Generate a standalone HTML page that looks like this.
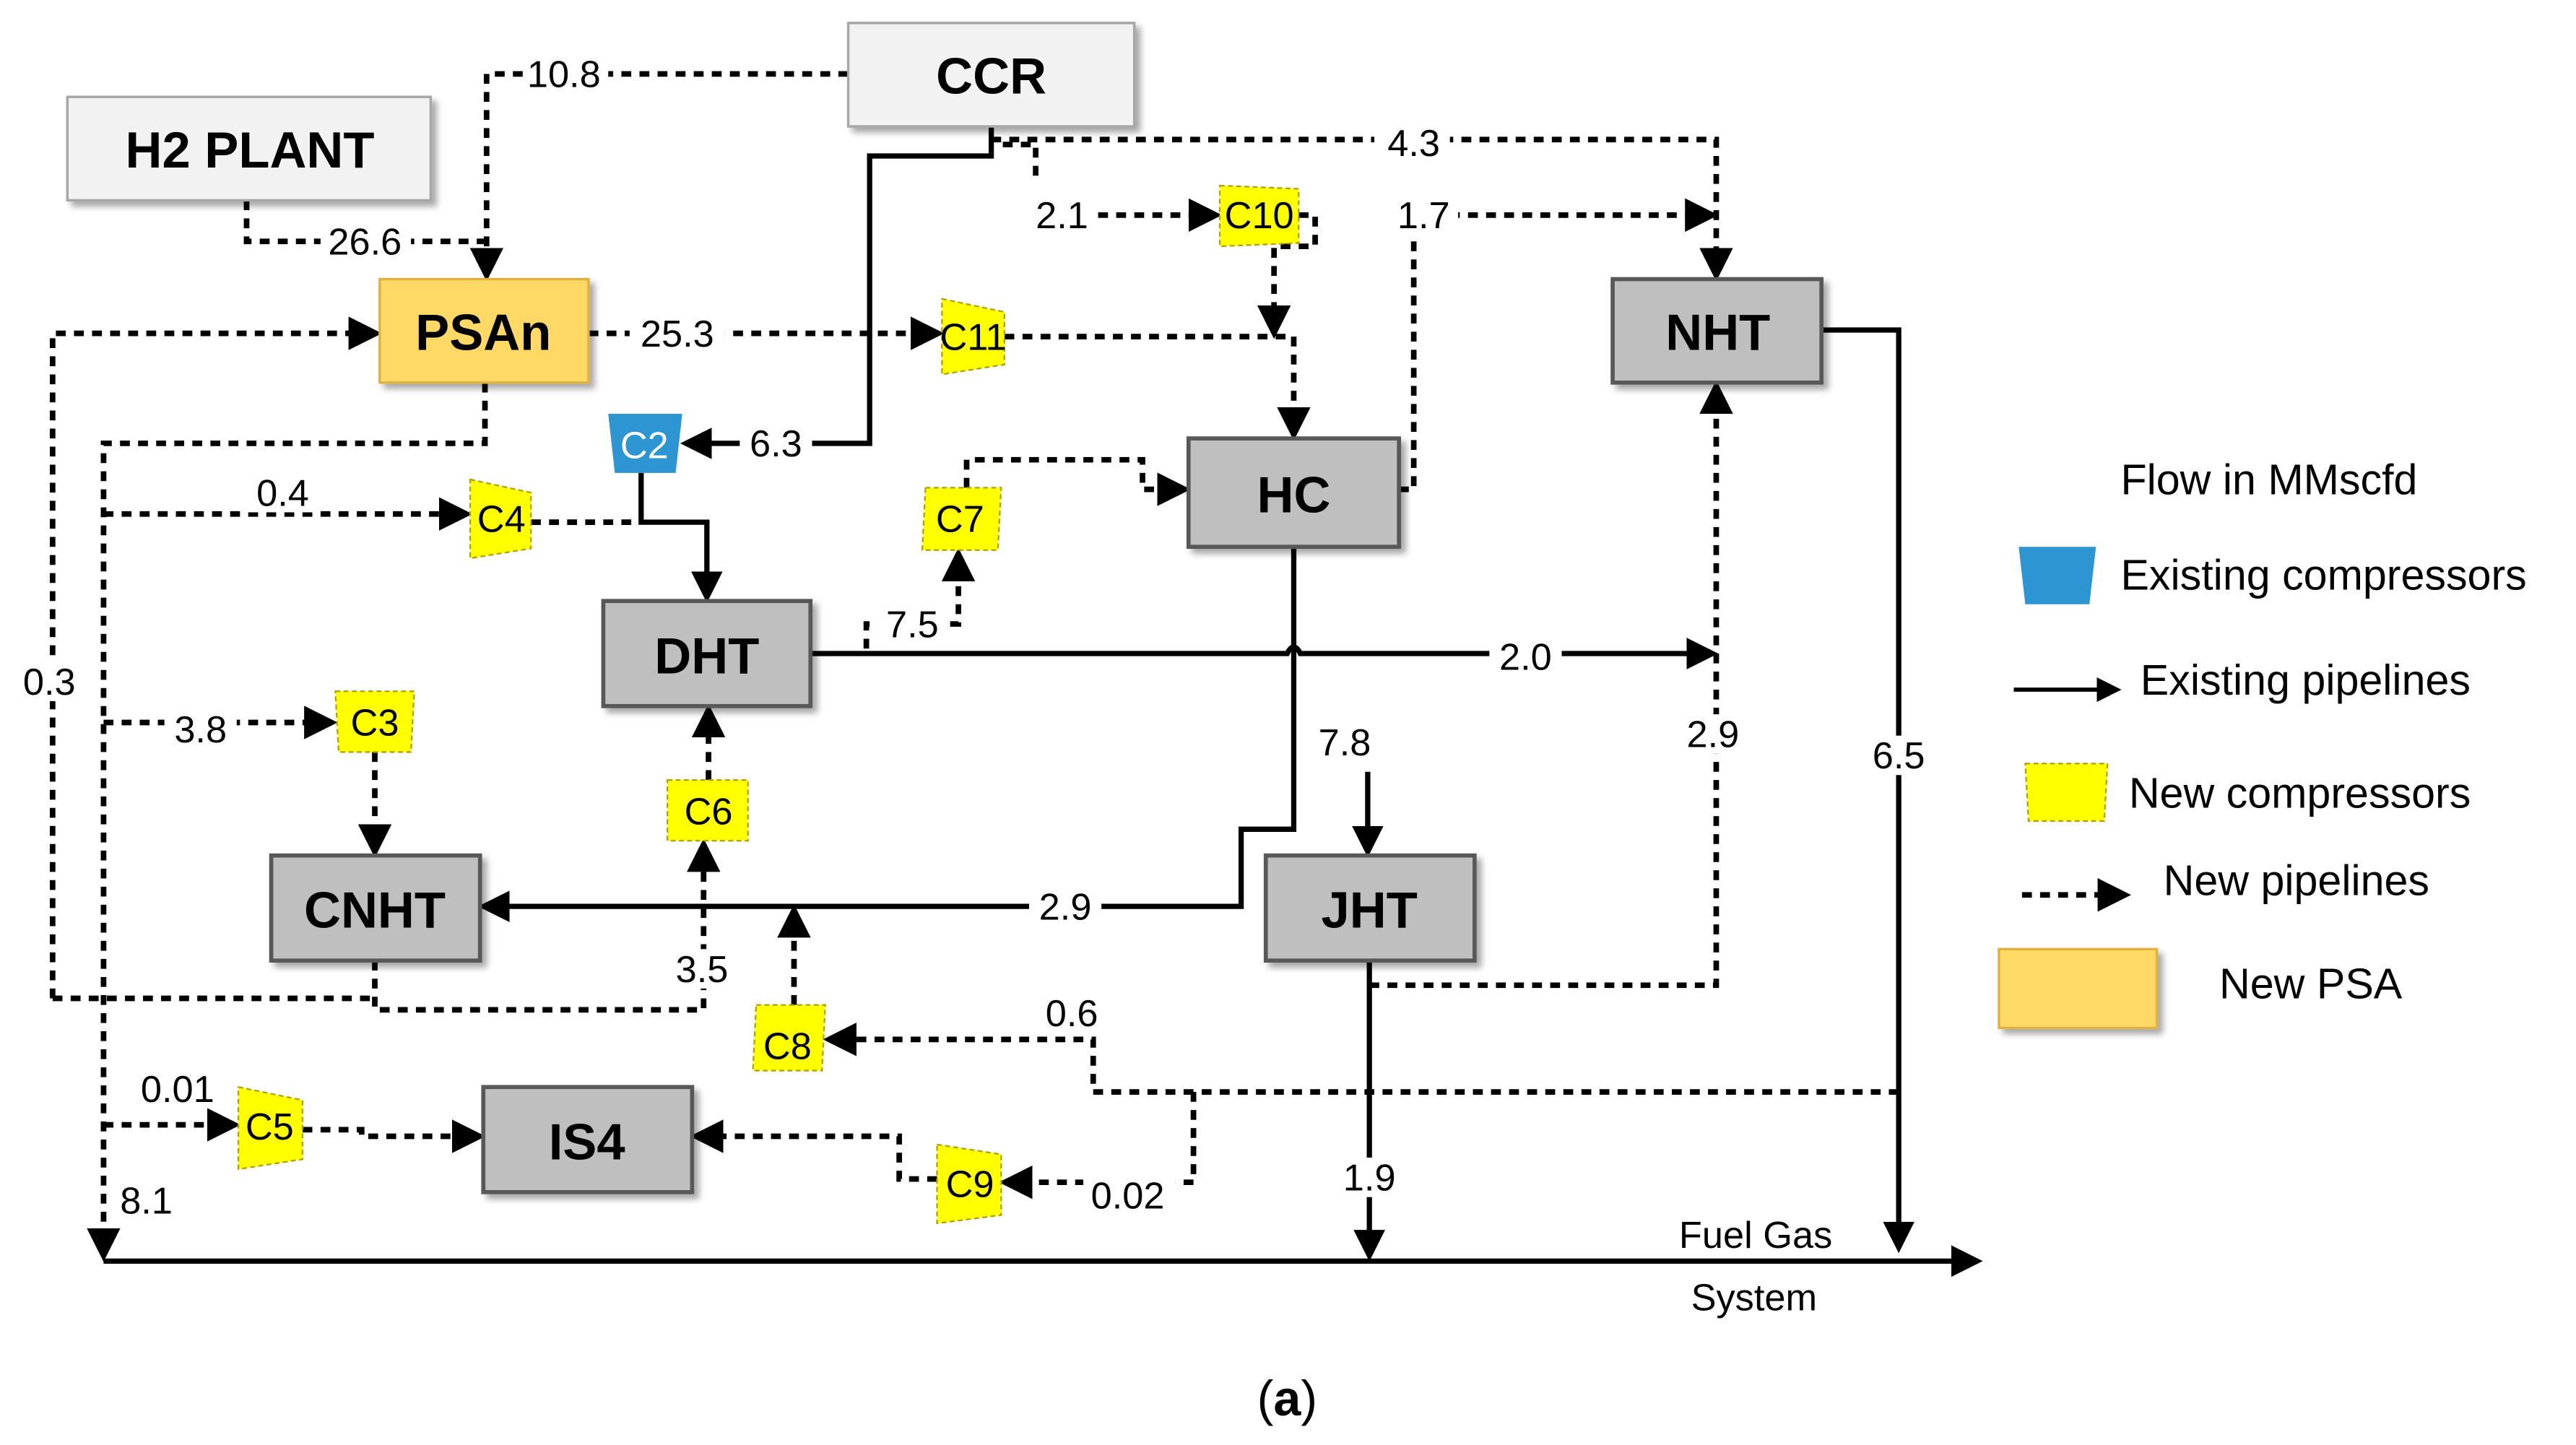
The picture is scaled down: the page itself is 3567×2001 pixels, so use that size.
<!DOCTYPE html>
<html><head><meta charset="utf-8"><style>
html,body{margin:0;padding:0;background:#fff;}
svg{display:block;}
text{font-family:"Liberation Sans",sans-serif;}
</style></head><body>
<svg width="3567" height="2001" viewBox="0 0 1567 880" preserveAspectRatio="none" xmlns="http://www.w3.org/2000/svg">
<defs>
<marker id="a" markerWidth="6" markerHeight="6" refX="5" refY="3" orient="auto" markerUnits="strokeWidth"><path d="M0,0 L6,3 L0,6 z" fill="#000"/></marker>
<filter id="sh" x="-10%" y="-10%" width="130%" height="140%"><feDropShadow dx="3" dy="3" stdDeviation="2" flood-color="#000" flood-opacity="0.35"/></filter>
</defs>
<g fill="none" stroke="#000" stroke-width="3.2">
<path d="M603,77 V95 H529 V270 H417" marker-end="url(#a)"/>
<path d="M390,288 V318 H430 V364" marker-end="url(#a)"/>
<path d="M493,398 H783 Q787,390 791,398 H1042" marker-end="url(#a)"/>
<path d="M787,333 V505 H755 V552 H294" marker-end="url(#a)"/>
<path d="M832,470 V519" marker-end="url(#a)"/>
<path d="M833,585 V765" marker-end="url(#a)"/>
<path d="M1108,201 H1155 V760" marker-end="url(#a)"/>
<path d="M63,768 H1203" marker-end="url(#a)"/>
</g>
<g fill="none" stroke="#000" stroke-width="3.4" stroke-dasharray="6 5">
<path d="M516,45 H296 V168" marker-end="url(#a)"/>
<path d="M150,122 V147 H296"/>
<path d="M358,203 H571" marker-end="url(#a)"/>
<path d="M611,205 H787 V265" marker-end="url(#a)"/>
<path d="M603,85 H1044 V168" marker-end="url(#a)"/>
<path d="M610,88 H630 V110 M668,131 H740" marker-end="url(#a)"/>
<path d="M790,131 H800 V150 H775 V203" marker-end="url(#a)"/>
<path d="M851,298 H860 V131 H1042" marker-end="url(#a)"/>
<path d="M295,233 V270 H63 V765" marker-end="url(#a)"/>
<path d="M63,313 H284" marker-end="url(#a)"/>
<path d="M323,318 H388"/>
<path d="M63,440 H202" marker-end="url(#a)"/>
<path d="M228,458 V519" marker-end="url(#a)"/>
<path d="M32,608 V203 H229" marker-end="url(#a)"/>
<path d="M32,608 H228 M228,585 V615 H428 V514" marker-end="url(#a)"/>
<path d="M431,475 V432" marker-end="url(#a)"/>
<path d="M527,395 V380 H583 V337" marker-end="url(#a)"/>
<path d="M588,297 V280 H695 V298 H721" marker-end="url(#a)"/>
<path d="M833,600 H1044 V235" marker-end="url(#a)"/>
<path d="M1155,665 H665 V633 H504" marker-end="url(#a)"/>
<path d="M483,612 V554" marker-end="url(#a)"/>
<path d="M726,665 V720 H611" marker-end="url(#a)"/>
<path d="M570,718 H547 V692 H423" marker-end="url(#a)"/>
<path d="M63,685 H143" marker-end="url(#a)"/>
<path d="M184,688 H220 V692 H292" marker-end="url(#a)"/>
<path d="M1230,545 H1293" marker-end="url(#a)"/>
</g>
<path d="M1225,420 H1288" stroke="#000" stroke-width="2.5" fill="none" marker-end="url(#a)"/>
<g stroke="#595959" stroke-width="2.5" filter="url(#sh)">
<rect x="516" y="14" width="174" height="63" fill="#f2f2f2" stroke="#a6a6a6" stroke-width="1.5"/>
<rect x="41" y="59" width="221" height="63" fill="#f2f2f2" stroke="#a6a6a6" stroke-width="1.5"/>
<rect x="231" y="170" width="127" height="63" fill="#ffd966" stroke="#e0b040" stroke-width="1.5"/>
<rect x="981" y="170" width="127" height="63" fill="#bfbfbf"/>
<rect x="723" y="267" width="128" height="66" fill="#bfbfbf"/>
<rect x="367" y="366" width="126" height="64" fill="#bfbfbf"/>
<rect x="165" y="521" width="127" height="64" fill="#bfbfbf"/>
<rect x="770" y="521" width="127" height="64" fill="#bfbfbf"/>
<rect x="294" y="662" width="127" height="64" fill="#bfbfbf"/>
<rect x="1216" y="578" width="96" height="48" fill="#ffd966" stroke="#e0b040" stroke-width="1.5"/>
</g>
<g font-weight="bold" font-size="31" text-anchor="middle" fill="#000">
<text x="603" y="57">CCR</text>
<text x="152" y="102">H2 PLANT</text>
<text x="294" y="213">PSAn</text>
<text x="1045" y="213">NHT</text>
<text x="787" y="312">HC</text>
<text x="430" y="410">DHT</text>
<text x="228" y="565">CNHT</text>
<text x="833" y="565">JHT</text>
<text x="357" y="706">IS4</text>
</g>
<g fill="#ffff00" stroke="#b0a000" stroke-width="1" stroke-dasharray="3 2">
<path d="M742,113 L790,115 L790,148 L742,150 z"/>
<path d="M573,182 L611,190 L611,222 L573,228 z"/>
<path d="M286,292 L323,300 L323,334 L286,340 z"/>
<path d="M563,297 L609,297 L607,335 L561,335 z"/>
<path d="M204,421 L252,421 L250,458 L206,458 z"/>
<path d="M406,475 L455,475 L455,512 L406,512 z"/>
<path d="M460,612 L502,612 L500,652 L458,652 z"/>
<path d="M145,662 L184,670 L184,706 L145,712 z"/>
<path d="M570,697 L609,703 L609,740 L570,745 z"/>
<path d="M1232,465 L1282,465 L1280,500 L1234,500 z"/>
</g>
<path d="M370,252 L415,252 L411,288 L374,288 z" fill="#2e95d3"/>
<path d="M1228,333 L1275,333 L1271,368 L1232,368 z" fill="#2e95d3"/>
<g font-size="23" fill="#000" text-anchor="middle">
<text x="766" y="139">C10</text>
<text x="592" y="213">C11</text>
<text x="392" y="279" fill="#fff">C2</text>
<text x="305" y="324">C4</text>
<text x="584" y="324">C7</text>
<text x="228" y="448">C3</text>
<text x="431" y="502">C6</text>
<text x="479" y="645">C8</text>
<text x="164" y="694">C5</text>
<text x="590" y="729">C9</text>
</g>
<g font-size="23" fill="#000" text-anchor="middle">
<g fill="#fff" stroke="none">
<rect x="318" y="33" width="52" height="24"/><rect x="195" y="135" width="55" height="24"/>
<rect x="383" y="191" width="58" height="24"/><rect x="450" y="258" width="44" height="24"/>
<rect x="836" y="75" width="46" height="24"/><rect x="625" y="119" width="42" height="24"/>
<rect x="845" y="119" width="42" height="24"/><rect x="150" y="288" width="44" height="24"/>
<rect x="8" y="403" width="42" height="24"/><rect x="100" y="432" width="44" height="24"/>
<rect x="533" y="368" width="44" height="24"/><rect x="906" y="388" width="44" height="24"/>
<rect x="797" y="440" width="44" height="24"/><rect x="1020" y="435" width="44" height="24"/>
<rect x="1133" y="448" width="44" height="24"/><rect x="626" y="540" width="44" height="24"/>
<rect x="405" y="578" width="44" height="24"/><rect x="630" y="605" width="44" height="24"/>
<rect x="79" y="651" width="58" height="24"/><rect x="659" y="716" width="56" height="24"/>
<rect x="66" y="719" width="46" height="24"/><rect x="811" y="705" width="44" height="24"/>
</g>
<text x="343" y="53">10.8</text><text x="222" y="155">26.6</text>
<text x="412" y="211">25.3</text><text x="472" y="278">6.3</text>
<text x="860" y="95">4.3</text><text x="646" y="139">2.1</text>
<text x="866" y="139">1.7</text><text x="172" y="308">0.4</text>
<text x="30" y="423">0.3</text><text x="122" y="452">3.8</text>
<text x="555" y="388">7.5</text><text x="928" y="408">2.0</text>
<text x="818" y="460">7.8</text><text x="1042" y="455">2.9</text>
<text x="1155" y="468">6.5</text><text x="648" y="560">2.9</text>
<text x="427" y="598">3.5</text><text x="652" y="625">0.6</text>
<text x="108" y="671">0.01</text><text x="686" y="736">0.02</text>
<text x="89" y="739">8.1</text><text x="833" y="725">1.9</text>
<text x="1068" y="760">Fuel Gas</text><text x="1067" y="798">System</text>
</g>
<g font-size="26" fill="#000">
<text x="1290" y="301">Flow in MMscfd</text>
<text x="1290" y="359">Existing compressors</text>
<text x="1302" y="423">Existing pipelines</text>
<text x="1295" y="492">New  compressors</text>
<text x="1316" y="545">New pipelines</text>
<text x="1350" y="608">New PSA</text>
</g>
<text x="783" y="862" font-family="Liberation Serif,serif" font-size="30" text-anchor="middle">(<tspan font-weight="bold">a</tspan>)</text>
</svg>
</body></html>
